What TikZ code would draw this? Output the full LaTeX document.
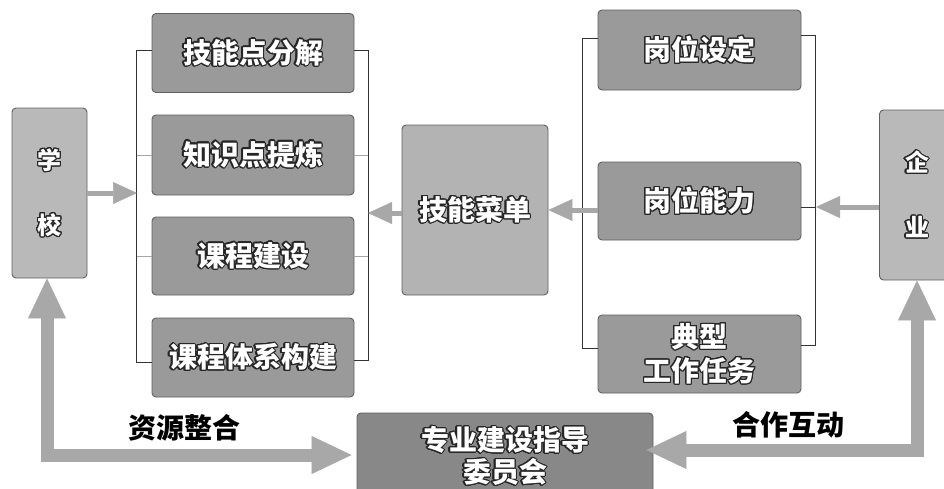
\documentclass[tikz,border=0pt]{standalone}
\usepackage{fontspec}
\newfontfamily\cjk{Noto Sans CJK SC}
\usepackage{contour}
\contourlength{1.1pt}
\contournumber{24}
\usetikzlibrary{arrows.meta}
\definecolor{colfill}{HTML}{9A9A9A}
\definecolor{lightfill}{HTML}{B9B9B9}
\definecolor{menufill}{HTML}{B3B3B3}
\definecolor{comfill}{HTML}{888888}
\definecolor{edgec}{HTML}{606060}
\definecolor{arrowc}{HTML}{A8A8A8}
\definecolor{brkc}{HTML}{333333}
\newcommand{\wt}[1]{\contour{black!85}{#1}}
\begin{document}
\begin{tikzpicture}[x=1pt,y=-1pt,
  gbox/.style={rectangle, rounded corners=4pt, draw=edgec, line width=0.9pt, text=white, inner sep=0pt, align=center,
     font=\cjk\bfseries\fontsize{28}{34}\selectfont},
  colbox/.style={gbox, fill=colfill, minimum width=202pt, minimum height=79pt},
  sidebox/.style={gbox, fill=lightfill, minimum width=75pt, minimum height=170pt, font=\cjk\bfseries\fontsize{24}{65}\selectfont},
  brk/.style={draw=brkc, line width=0.9pt},
  tickl/.style={draw=black!35, line width=0.7pt},
  tarrow/.style={draw=arrowc, line width=5pt, -{Triangle[length=24pt,width=22pt,line width=0.5pt]}},
  barrow/.style={draw=arrowc, line width=13pt, {Triangle[length=40pt,width=38pt,line width=0.5pt]}-{Triangle[length=40pt,width=38pt,line width=0.5pt]}},
  lbl/.style={font=\cjk\bfseries\fontsize{28}{34}\selectfont, text=black}]
\useasboundingbox (0,0) rectangle (944,488);
\clip (0,0) rectangle (944,488);

% side boxes
\node[sidebox] (school) at (49.5,193) {\wt{学}\\\wt{校}};
\node[sidebox] (ent) at (917,195) {\wt{企}\\\wt{业}};

% left column
\node[colbox] (b1) at (253,53) {\wt{技能点分解}};
\node[colbox, minimum height=80pt] (b2) at (253,155) {\wt{知识点提炼}};
\node[colbox, minimum height=78pt] (b3) at (253,256) {\wt{课程建设}};
\node[colbox] (b4) at (253,357.5) {\wt{课程体系构建}};

% middle
\node[gbox, fill=menufill, minimum width=146pt, minimum height=170pt] (menu) at (475,210) {\wt{技能菜单}};

% right column
\node[colbox, minimum width=203pt, minimum height=80pt] (r1) at (699.5,50) {\wt{岗位设定}};
\node[colbox, minimum width=203pt, minimum height=78pt] (r2) at (699.5,201) {\wt{岗位能力}};
\node[colbox, minimum width=203pt, minimum height=78pt] (r3) at (699.5,354) {\wt{典型}\\\wt{工作任务}};

% committee
\node[gbox, fill=comfill, minimum width=296pt, minimum height=87pt, font=\cjk\bfseries\fontsize{28}{32}\selectfont] (com) at (505,456.5) {\wt{专业建设指导}\\\wt{委员会}};

% brackets left column
\draw[brk] ([yshift=3pt]b1.west) -- ++(-15,0) |- ([yshift=-4.5pt]b4.west);
\draw[brk] ([yshift=3pt]b1.east) -- ++(14,0) |- ([yshift=-2.5pt]b4.east);
\draw[tickl] (b2.west) -- ++(-15,0);
\draw[tickl] (b3.west) -- ++(-15,0);
\draw[tickl] (b2.east) -- ++(14,0);
\draw[tickl] (b3.east) -- ++(14,0);

% brackets right column
\draw[brk] ([yshift=12pt]r1.west) -- ++(-15,0) |- ([yshift=6pt]r3.west);
\draw[brk] ([yshift=15pt]r1.east) -- ++(14,0) |- ([yshift=9pt]r3.east);

% thin arrows
\coordinate (lbl) at (137,193);
\coordinate (lbr) at (368,213);
\coordinate (rbr) at (816,207);
\draw[tarrow] (school.east) -- (lbl);
\draw[tarrow] (menu.west |- lbr) -- (lbr);
\draw[brk] (r2.west |- menu.east) -- ++(-15,0);
\draw[tarrow] (r2.west |- menu.east) -- (menu.east);
\draw[brk] (r2.east |- rbr) -- (rbr);
\draw[tarrow] (ent.west |- rbr) -- (rbr);

% big arrows
\draw[barrow, shorten >=5pt] ([xshift=-2.5pt]school.south) |- ([yshift=1.5pt]com.west);
\draw[barrow, shorten >=-7pt] (ent.south) |- ([yshift=6.5pt]com.east);

% labels
\node[lbl] (l1) at (184,428) {资源整合};
\node[lbl] (l2) at (788,425) {合作互动};
\end{tikzpicture}
\end{document}
